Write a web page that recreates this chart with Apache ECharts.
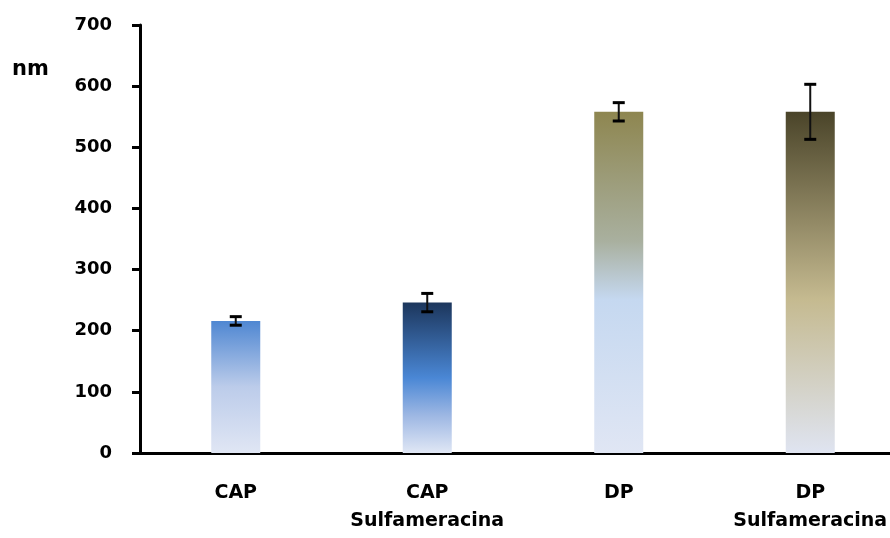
<!DOCTYPE html>
<html>
<head>
<meta charset="utf-8">
<script src="https://cdn.jsdelivr.net/npm/echarts@6/dist/echarts.min.js"></script>
<style>html,body{margin:0;padding:0;background:#fff}#c{width:890px;height:538px}</style>
</head>
<body>
<div id="c"></div>
<script>
var categories = ['CAP', 'CAP\nSulfameracina', 'DP', 'DP\nSulfameracina'];
var values = [216, 246, 558, 558];
var errors = [7, 15, 15, 45];
var yTicks = [0, 100, 200, 300, 400, 500, 600, 700];

var gradients = [
  [[0, '#4F87D2'], [0.5, '#BCCCEA'], [1, '#E0E6F4']],
  [[0, '#1C365C'], [0.5, '#4A87D5'], [0.75, '#9DB7E3'], [1, '#E0E7F5']],
  [[0, '#8E8650'], [0.38, '#A9B09F'], [0.55, '#C5D8F0'], [1, '#E0E6F4']],
  [[0, '#4A4429'], [0.55, '#C5BA90'], [1, '#DFE4F1']]
];

function grad(stops) {
  return new echarts.graphic.LinearGradient(0, 0, 0, 1, stops.map(function (s) { return { offset: s[0], color: s[1] }; }));
}

var barData = values.map(function (v, i) {
  return { value: v, itemStyle: { color: grad(gradients[i]) } };
});
var errData = values.map(function (v, i) { return [i, v - errors[i], v + errors[i]]; });

var font = 'DejaVu Sans';
var chart = echarts.init(document.getElementById('c'));
chart.setOption({
  animation: false,
  backgroundColor: '#ffffff',
  grid: { left: 140, top: 25, bottom: 85, width: 766, containLabel: false, outerBoundsMode: 'none' },
  graphic: [{
    type: 'text', left: 12, top: 59,
    style: { text: 'nm', font: 'bold 21px "DejaVu Sans"', fill: '#000' }
  }],
  xAxis: {
    type: 'category',
    data: categories,
    axisLine: { lineStyle: { color: '#000', width: 3 } },
    axisTick: { show: false },
    axisLabel: { interval: 0, hideOverlap: false, color: '#000', fontFamily: font, fontWeight: 'bold', fontSize: 19, lineHeight: 28, margin: 26 }
  },
  yAxis: {
    type: 'value',
    min: yTicks[0], max: yTicks[yTicks.length - 1], interval: 100,
    splitLine: { show: false },
    axisLine: { show: true, lineStyle: { color: '#000', width: 3 } },
    axisTick: { show: true, length: 8, lineStyle: { color: '#000', width: 3 } },
    axisLabel: { color: '#000', fontFamily: font, fontWeight: 'bold', fontSize: 18, margin: 28 }
  },
  series: [{
    type: 'bar',
    data: barData,
    barWidth: 49
  }, {
    type: 'custom',
    data: errData,
    z: 10,
    renderItem: function (params, api) {
      var x = api.coord([api.value(0), 0])[0];
      var lo = api.coord([api.value(0), api.value(1)])[1];
      var hi = api.coord([api.value(0), api.value(2)])[1];
      var hw = 6;
      var st = { stroke: '#000', lineWidth: 3 };
      return {
        type: 'group',
        children: [
          { type: 'line', shape: { x1: x, y1: lo, x2: x, y2: hi }, style: { stroke: '#111', lineWidth: 2 } },
          { type: 'line', shape: { x1: x - hw, y1: hi, x2: x + hw, y2: hi }, style: st },
          { type: 'line', shape: { x1: x - hw, y1: lo, x2: x + hw, y2: lo }, style: st }
        ]
      };
    }
  }]
});
</script>
</body>
</html>
